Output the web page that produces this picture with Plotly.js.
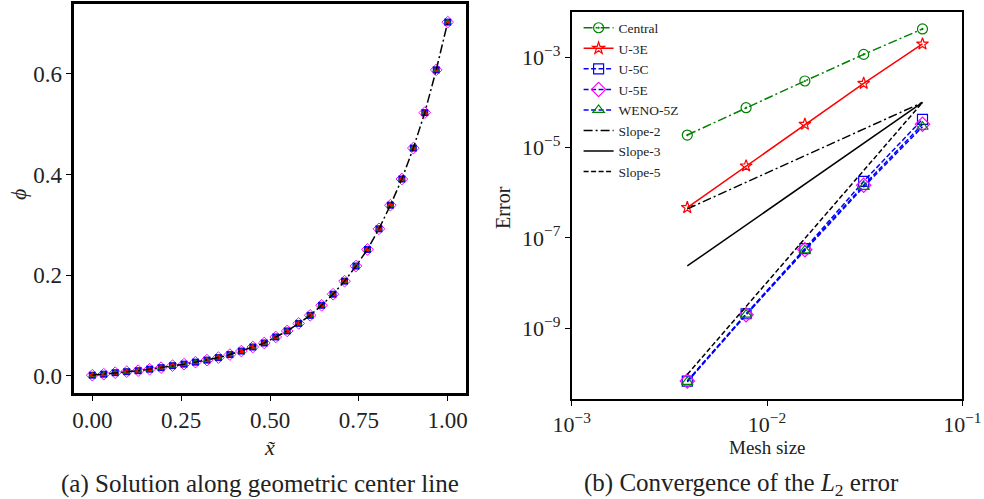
<!DOCTYPE html>
<html>
<head>
<meta charset="utf-8">
<script src="https://cdn.plot.ly/plotly-3.0.1.min.js"></script>
<style>html,body{margin:0;padding:0;background:#fff}#chart{width:984px;height:499px}</style>
</head>
<body>
<div id="chart"></div>
<script>
// ---- Panel (a): solution along centre line ----
const xLine = [0,0.0323,0.0645,0.0968,0.129,0.1613,0.1935,0.2258,0.2581,0.2903,0.3226,0.3548,0.3871,0.4194,0.4516,0.4839,
  0.5161,0.5484,0.5806,0.6129,0.6452,0.6774,0.7097,0.7419,0.7742,0.8065,0.8387,0.871,0.9032,0.9355,0.9677,1.0];
const phiVals = [0.001,0.003,0.006,0.008,0.010,0.013,0.016,0.020,0.023,0.027,0.031,0.036,0.042,0.049,0.057,0.065,
  0.077,0.089,0.104,0.120,0.140,0.162,0.188,0.218,0.251,0.292,0.339,0.391,0.4525,0.523,0.608,0.703];

// ---- Panel (b): convergence ----
const meshSize = [0.00390625,0.0078125,0.015625,0.03125,0.0625];
const errCentral = [1.9e-5,7.66e-5,2.99e-4,1.16e-3,4.24e-3];
const errU3E = [4.71e-7,3.93e-6,3.29e-5,2.65e-4,1.97e-3];
const errU5C = [6.8e-11,2.1e-9,5.8e-8,1.8e-6,4.24e-5];
const errU5E = [6.8e-11,2.0e-9,5.5e-8,1.47e-6,3.29e-5];
const errWENO = [6.5e-11,2.0e-9,5.3e-8,1.35e-6,2.9e-5];
const slopeX = [0.00390625,0.0625];
const slope2 = [4.4e-7,1.0e-4];
const slope3 = [2.4e-8,1.0e-4];
const slope5 = [9.5e-11,1.0e-4];

const xTicksA = [0,0.25,0.5,0.75,1.0];
const xTickTextA = ['0.00','0.25','0.50','0.75','1.00'];
const yTicksA = [0,0.2,0.4,0.6];
const yTickTextA = ['0.0','0.2','0.4','0.6'];
const xTicksB = [1e-3,1e-2,1e-1];
const xTickTextB = ['10<sup>−3</sup>','10<sup>−2</sup>','10<sup>−1</sup>'];
const yTicksB = [1e-9,1e-7,1e-5,1e-3];
const yTickTextB = ['10<sup>−9</sup>','10<sup>−7</sup>','10<sup>−5</sup>','10<sup>−3</sup>'];

const F = 'Liberation Serif, DejaVu Serif, serif';
const DD = '9px,3px,2px,3px';
const DA = '5px,2.5px';

const traces = [];
// panel a markers
traces.push({x:xLine,y:phiVals,mode:'markers',xaxis:'x',yaxis:'y',showlegend:false,
  marker:{symbol:'diamond-open',size:9,color:'#ff00ff',line:{width:1}}});
traces.push({x:xLine,y:phiVals,mode:'markers',xaxis:'x',yaxis:'y',showlegend:false,
  marker:{symbol:'square',size:7,color:'#0000ff'}});
traces.push({x:xLine,y:phiVals,mode:'markers',xaxis:'x',yaxis:'y',showlegend:false,
  marker:{symbol:'triangle-up',size:7,color:'#008000'}});
traces.push({x:xLine,y:phiVals,mode:'markers',xaxis:'x',yaxis:'y',showlegend:false,
  marker:{symbol:'star',size:5,color:'#ff0000'}});
traces.push({x:xLine,y:phiVals,mode:'lines',xaxis:'x',yaxis:'y',showlegend:false,
  line:{color:'#000',width:1.5,dash:DD}});

// panel b
traces.push({x:meshSize,y:errCentral,name:'Central',mode:'lines+markers',xaxis:'x2',yaxis:'y2',
  line:{color:'#008000',width:1.5,dash:DD},marker:{symbol:'circle-open-dot',size:10,color:'#008000',line:{width:1.2}}});
traces.push({x:meshSize,y:errU3E,name:'U-3E',mode:'lines+markers',xaxis:'x2',yaxis:'y2',
  line:{color:'#ff0000',width:1.5},marker:{symbol:'star-open',size:9,color:'#ff0000',line:{width:1.2}}});
traces.push({x:meshSize,y:errU5C,name:'U-5C',mode:'lines+markers',xaxis:'x2',yaxis:'y2',
  line:{color:'#0000ff',width:1.5,dash:DA},marker:{symbol:'square-open',size:10,color:'#0000ff',line:{width:1.2}}});
traces.push({x:meshSize,y:errU5E,name:'U-5E',mode:'lines+markers',xaxis:'x2',yaxis:'y2',
  line:{color:'#0000ff',width:1.5,dash:DA},marker:{symbol:'diamond-open',size:11,color:'#ff00ff',line:{width:1.2}}});
traces.push({x:meshSize,y:errWENO,name:'WENO-5Z',mode:'lines+markers',xaxis:'x2',yaxis:'y2',
  line:{color:'#0000ff',width:1.5,dash:DA},marker:{symbol:'triangle-up-open',size:10,color:'#008000',line:{width:1.2}}});
traces.push({x:slopeX,y:slope2,name:'Slope-2',mode:'lines',xaxis:'x2',yaxis:'y2',
  line:{color:'#000',width:1.5,dash:DD}});
traces.push({x:slopeX,y:slope3,name:'Slope-3',mode:'lines',xaxis:'x2',yaxis:'y2',
  line:{color:'#000',width:1.5}});
traces.push({x:slopeX,y:slope5,name:'Slope-5',mode:'lines',xaxis:'x2',yaxis:'y2',
  line:{color:'#000',width:1.5,dash:DA}});

const axBase = {showline:true,mirror:true,linecolor:'#000',showgrid:false,zeroline:false,
  ticks:'outside',ticklen:5,tickwidth:1,tickcolor:'#000',tickfont:{family:F,size:22,color:'#222'}};

function ann(x,y,text,size,angle){
  return {xref:'paper',yref:'paper',x:x,y:y,xanchor:'center',yanchor:'middle',text:text,textangle:angle||0,
    showarrow:false,font:{family:F,size:size,color:'#222'}};
}

const layout = {
  width:984,height:499,margin:{l:0,r:0,t:0,b:0},
  paper_bgcolor:'#fff',plot_bgcolor:'#fff',
  font:{family:F,color:'#222'},
  xaxis:Object.assign({},axBase,{domain:[0.0752,0.4736],range:[-0.0515,1.0515],tickvals:xTicksA,ticktext:xTickTextA,
    linewidth:2.5,anchor:'y',tickfont:{family:F,size:23,color:'#222'}}),
  yaxis:Object.assign({},axBase,{domain:[0.2124,0.992],range:[-0.0344,0.739],tickvals:yTicksA,ticktext:yTickTextA,
    linewidth:2.5,anchor:'x',tickfont:{family:F,size:23,color:'#222'}}),
  xaxis2:Object.assign({},axBase,{type:'log',domain:[0.581,0.978],range:[-3,-1],tickvals:xTicksB,ticktext:xTickTextB,linewidth:1.8,anchor:'y2'}),
  yaxis2:Object.assign({},axBase,{type:'log',domain:[0.2004,0.9766],range:[-10.565,-1.99],tickvals:yTicksB,ticktext:yTickTextB,linewidth:1.8,anchor:'x2'}),
  legend:{x:0.588,y:0.975,xanchor:'left',yanchor:'top',bgcolor:'rgba(255,255,255,0)',borderwidth:0,
    font:{family:F,size:13.5,color:'#222'},tracegroupgap:0,itemsizing:'trace'},
  annotations:[
    ann(0.0183,0.609,'<i>ϕ</i>',22,-90),
    ann(0.274,0.104,'<i>x̃</i>',22),
    ann(0.511,0.585,'Error',20,-90),
    ann(0.7795,0.104,'Mesh size',19),
    ann(0.264,0.030,'(a) Solution along geometric center line',25),
    ann(0.754,0.030,'(b) Convergence of the <i>L</i><sub>2</sub> error',25)
  ]
};

Plotly.newPlot('chart',traces,layout,{displayModeBar:false,staticPlot:true});
</script>
</body>
</html>
